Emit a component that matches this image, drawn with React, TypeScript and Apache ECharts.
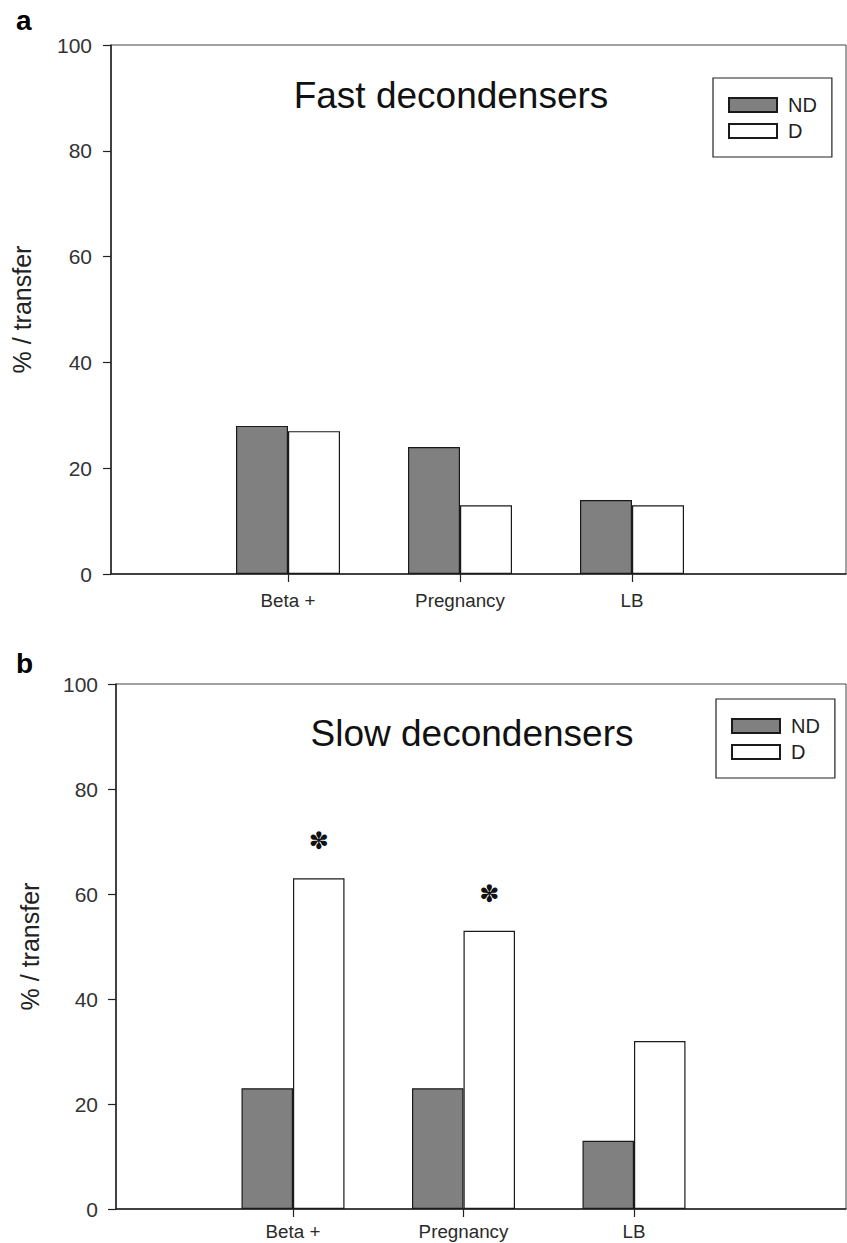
import React, { useEffect, useRef } from "react";
import * as echarts from "echarts";

const categories = ["Beta +", "Pregnancy", "LB"];
const seriesNames = ["ND", "D"];
const fastND = [28, 24, 14];
const fastD = [27, 13, 13];
const slowND = [23, 23, 13];
const slowD = [63, 53, 32];
const slowSig = [true, true, false];
const yMin = 0;
const yMax = 100;
const yStep = 20;
const panelLetters = ["a", "b"];
const panelTitles = ["Fast decondensers", "Slow decondensers"];
const yName = "% / transfer";

const FONT = "'Liberation Sans', Arial, Helvetica, sans-serif";
const DARK = "#222";
const GREY = "#808080";

export default function App() {
  const ref = useRef<HTMLDivElement>(null);

  useEffect(() => {
    if (!ref.current) return;
    const chart = echarts.init(ref.current, null, { renderer: "svg" });

    const frameX = (gridIndex: number) => ({
      gridIndex,
      type: "value" as const,
      min: 0,
      max: 1,
      axisLine: { show: true, onZero: false, lineStyle: { color: DARK, width: 1.5 } },
      axisTick: { show: false },
      axisLabel: { show: false },
      splitLine: { show: false },
    });
    const catX = (gridIndex: number, margin: number) => ({
      gridIndex,
      type: "category" as const,
      data: categories,
      axisLine: { show: false },
      axisTick: { show: true, alignWithLabel: true, length: 8, lineStyle: { color: DARK, width: 1.2 } },
      axisLabel: { margin, fontSize: 18.8, color: "#2a2a2a", fontFamily: FONT },
      splitLine: { show: false },
    });
    const frameY = (gridIndex: number, margin: number, nameGap: number) => ({
      gridIndex,
      type: "value" as const,
      min: yMin,
      max: yMax,
      interval: yStep,
      axisLine: { show: true, lineStyle: { color: DARK, width: 1.5 } },
      axisTick: { show: true, length: 8, lineStyle: { color: DARK, width: 1.2 } },
      axisLabel: { margin, fontSize: 21, color: "#333", fontFamily: FONT },
      splitLine: { show: false },
      name: yName,
      nameLocation: "middle" as const,
      nameGap,
      nameTextStyle: { fontSize: 25, color: DARK, fontFamily: FONT },
    });
    const hiddenY = (gridIndex: number) => ({
      gridIndex,
      type: "value" as const,
      min: yMin,
      max: yMax,
      interval: yStep,
      show: false,
      splitLine: { show: false },
    });
    const barStyle = (fill: string) => ({ color: fill, borderColor: "#1a1a1a", borderWidth: 1.2 });
    const legend = (left: number, top: number) => ({
      data: seriesNames,
      orient: "vertical" as const,
      left,
      top,
      icon: "rect",
      itemWidth: 48,
      itemHeight: 14,
      itemGap: 6,
      padding: [17, 15, 16, 15],
      borderColor: DARK,
      borderWidth: 1.2,
      selectedMode: false,
      textStyle: { fontSize: 20, color: DARK, fontFamily: FONT, padding: [0, 0, 0, 6] },
    });

    chart.setOption({
      animation: false,
      textStyle: { fontFamily: FONT },
      grid: [
        { left: 111, top: 45, width: 735, height: 529, show: true, borderColor: "#444", borderWidth: 1 },
        { left: 202, top: 45, width: 516, height: 529 },
        { left: 116, top: 684, width: 730, height: 525, show: true, borderColor: "#444", borderWidth: 1 },
        { left: 207.75, top: 684, width: 511.5, height: 525 },
      ],
      xAxis: [frameX(0), catX(1, 17), frameX(2), catX(3, 13)],
      yAxis: [frameY(0, 19, 77), hiddenY(1), frameY(2, 18, 74), hiddenY(3)],
      legend: [legend(713, 78), legend(716, 699)],
      series: [
        { type: "bar", name: seriesNames[0], xAxisIndex: 1, yAxisIndex: 1, data: fastND, barWidth: 52, barGap: "0%", itemStyle: barStyle(GREY) },
        { type: "bar", name: seriesNames[1], xAxisIndex: 1, yAxisIndex: 1, data: fastD, barWidth: 52, barGap: "0%", itemStyle: barStyle("#fff") },
        { type: "bar", name: seriesNames[0], xAxisIndex: 3, yAxisIndex: 3, data: slowND, barWidth: 51.5, barGap: "0%", itemStyle: barStyle(GREY) },
        {
          type: "bar",
          name: seriesNames[1],
          xAxisIndex: 3,
          yAxisIndex: 3,
          data: slowD,
          barWidth: 51.5,
          barGap: "0%",
          itemStyle: barStyle("#fff"),
          label: {
            show: true,
            position: "top",
            distance: 25,
            fontSize: 24,
            color: "#111",
            fontFamily: "'DejaVu Sans', sans-serif",
            formatter: (p: any) => (slowSig[p.dataIndex] ? "\u273D" : ""),
          },
        },
      ],
      graphic: [
        { type: "text", x: 16, y: 20, style: { text: panelLetters[0], fill: "#000", font: `bold 28px ${FONT}`, verticalAlign: "middle" } },
        { type: "text", x: 16, y: 663, style: { text: panelLetters[1], fill: "#000", font: `bold 28px ${FONT}`, verticalAlign: "middle" } },
        { type: "text", x: 451, y: 95, style: { text: panelTitles[0], font: `37px ${FONT}`, fill: "#111", align: "center", verticalAlign: "middle" } },
        { type: "text", x: 472, y: 733, style: { text: panelTitles[1], font: `37px ${FONT}`, fill: "#111", align: "center", verticalAlign: "middle" } },
      ],
    });

    return () => chart.dispose();
  }, []);

  return <div ref={ref} style={{ position: "absolute", left: 0, top: 0, width: 847, height: 1243 }} />;
}
